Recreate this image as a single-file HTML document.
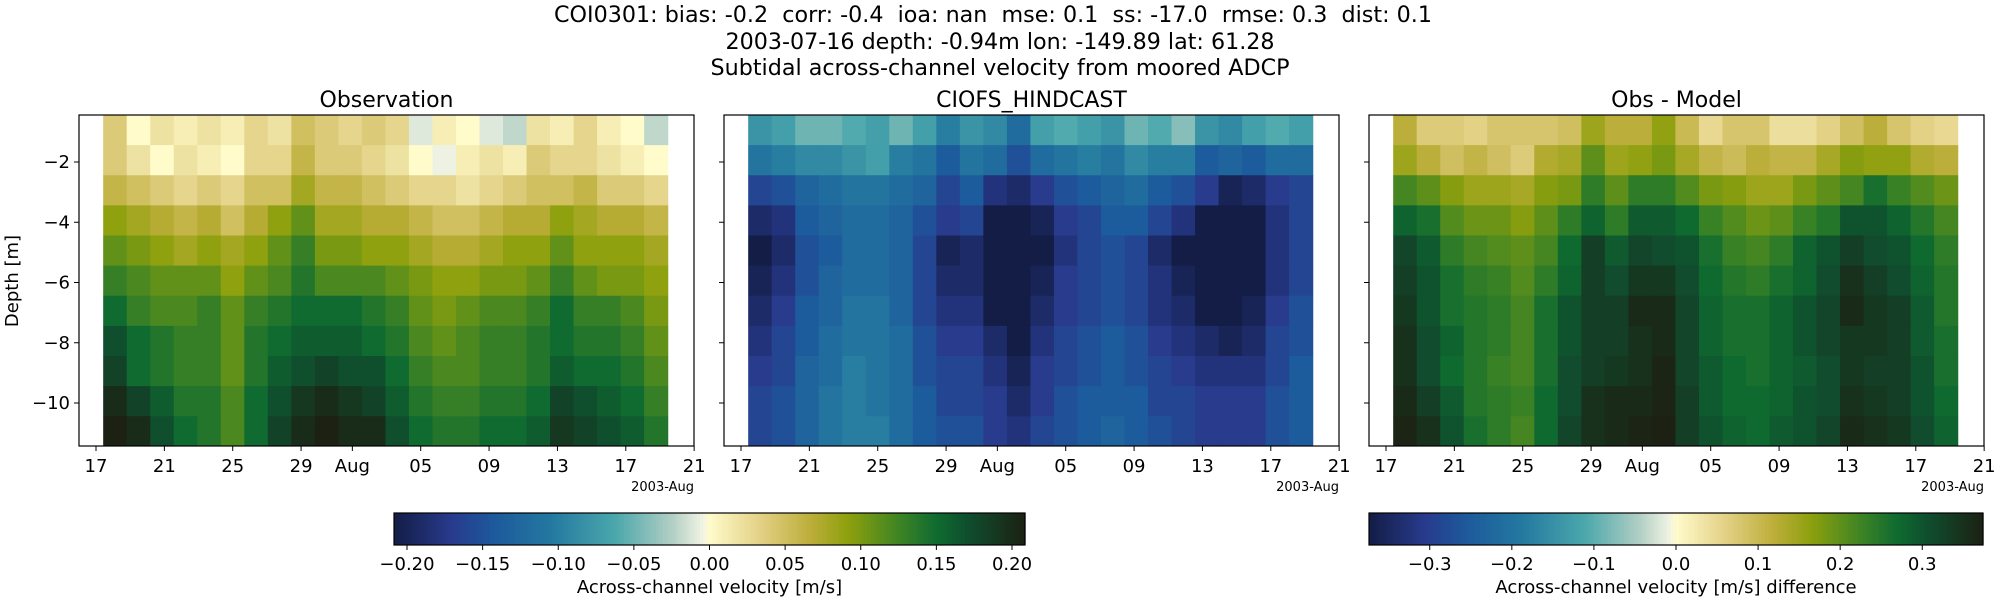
<!DOCTYPE html>
<html><head><meta charset="utf-8"><style>
html,body{margin:0;padding:0;background:#fff;}
svg{display:block;font-family:"DejaVu Sans","Liberation Sans",sans-serif;}
</style></head><body>
<svg id="fig" width="2000" height="600" viewBox="0 0 2000 600" xmlns="http://www.w3.org/2000/svg">
<g font-size="22" text-anchor="middle" fill="#000" style="white-space:pre">
<text x="993" y="22" textLength="878" lengthAdjust="spacingAndGlyphs" xml:space="preserve">COI0301: bias: -0.2  corr: -0.4  ioa: nan  mse: 0.1  ss: -17.0  rmse: 0.3  dist: 0.1</text>
<text x="1000" y="49" textLength="549" lengthAdjust="spacingAndGlyphs">2003-07-16 depth: -0.94m lon: -149.89 lat: 61.28</text>
<text x="1000" y="75" textLength="579" lengthAdjust="spacingAndGlyphs">Subtidal across-channel velocity from moored ADCP</text>
</g>
<g id="layer"></g>
</svg>
<script>
const obs = [
[0.04,0.0,0.02,0.01,0.02,0.01,0.03,0.02,0.05,0.04,0.03,0.04,0.03,-0.01,0.01,0.0,-0.01,-0.02,0.02,0.01,0.03,0.01,0.0,-0.02],
[0.04,0.02,0.0,0.02,0.01,0.0,0.03,0.03,0.06,0.04,0.04,0.03,0.02,0.0,-0.005,0.01,0.02,0.01,0.04,0.03,0.03,0.02,0.01,0.0],
[0.06,0.05,0.04,0.03,0.04,0.03,0.05,0.05,0.08,0.06,0.06,0.05,0.04,0.03,0.03,0.02,0.03,0.04,0.05,0.05,0.06,0.04,0.04,0.03],
[0.09,0.08,0.07,0.06,0.07,0.05,0.07,0.09,0.11,0.08,0.08,0.07,0.07,0.06,0.05,0.05,0.06,0.07,0.07,0.09,0.08,0.07,0.07,0.06],
[0.11,0.10,0.09,0.08,0.09,0.08,0.09,0.11,0.13,0.10,0.10,0.09,0.09,0.08,0.07,0.07,0.08,0.09,0.09,0.11,0.09,0.09,0.09,0.08],
[0.13,0.12,0.11,0.11,0.11,0.09,0.11,0.12,0.14,0.12,0.12,0.12,0.11,0.10,0.09,0.09,0.10,0.10,0.11,0.13,0.11,0.10,0.10,0.09],
[0.15,0.13,0.12,0.12,0.13,0.11,0.13,0.14,0.15,0.15,0.15,0.14,0.13,0.11,0.10,0.11,0.12,0.12,0.13,0.15,0.13,0.13,0.12,0.10],
[0.17,0.15,0.14,0.13,0.13,0.11,0.14,0.15,0.16,0.16,0.16,0.15,0.14,0.12,0.11,0.12,0.13,0.13,0.14,0.15,0.14,0.14,0.13,0.11],
[0.18,0.15,0.14,0.13,0.13,0.11,0.14,0.16,0.17,0.18,0.17,0.17,0.15,0.13,0.12,0.12,0.13,0.13,0.14,0.16,0.15,0.15,0.14,0.12],
[0.20,0.18,0.16,0.14,0.14,0.12,0.15,0.17,0.19,0.20,0.19,0.18,0.16,0.14,0.13,0.13,0.14,0.14,0.15,0.18,0.17,0.16,0.15,0.13],
[0.21,0.20,0.17,0.15,0.14,0.12,0.15,0.18,0.20,0.21,0.20,0.20,0.17,0.15,0.14,0.14,0.15,0.15,0.16,0.19,0.18,0.17,0.16,0.14]
];
const model = [
[-0.08,-0.07,-0.05,-0.05,-0.06,-0.07,-0.05,-0.07,-0.10,-0.08,-0.09,-0.12,-0.07,-0.06,-0.07,-0.08,-0.05,-0.06,-0.04,-0.08,-0.09,-0.07,-0.06,-0.07],
[-0.11,-0.10,-0.09,-0.09,-0.08,-0.07,-0.10,-0.11,-0.14,-0.11,-0.12,-0.15,-0.12,-0.11,-0.10,-0.11,-0.09,-0.10,-0.10,-0.14,-0.13,-0.14,-0.12,-0.12],
[-0.16,-0.15,-0.13,-0.12,-0.11,-0.11,-0.12,-0.13,-0.16,-0.14,-0.18,-0.19,-0.17,-0.15,-0.14,-0.13,-0.12,-0.14,-0.15,-0.17,-0.20,-0.19,-0.17,-0.16],
[-0.19,-0.18,-0.14,-0.13,-0.12,-0.12,-0.13,-0.15,-0.17,-0.16,-0.21,-0.22,-0.20,-0.17,-0.16,-0.14,-0.14,-0.16,-0.18,-0.21,-0.22,-0.21,-0.18,-0.16],
[-0.21,-0.19,-0.15,-0.14,-0.12,-0.12,-0.13,-0.16,-0.20,-0.19,-0.22,-0.22,-0.21,-0.18,-0.16,-0.15,-0.16,-0.19,-0.21,-0.22,-0.22,-0.21,-0.18,-0.16],
[-0.20,-0.18,-0.15,-0.13,-0.12,-0.12,-0.13,-0.16,-0.19,-0.19,-0.22,-0.22,-0.20,-0.17,-0.16,-0.15,-0.16,-0.18,-0.20,-0.22,-0.22,-0.21,-0.18,-0.16],
[-0.19,-0.17,-0.14,-0.13,-0.11,-0.11,-0.13,-0.16,-0.18,-0.18,-0.21,-0.22,-0.19,-0.17,-0.16,-0.15,-0.16,-0.18,-0.19,-0.21,-0.21,-0.20,-0.17,-0.15],
[-0.18,-0.16,-0.14,-0.12,-0.11,-0.11,-0.12,-0.15,-0.17,-0.17,-0.19,-0.21,-0.18,-0.16,-0.15,-0.14,-0.15,-0.17,-0.18,-0.19,-0.20,-0.19,-0.16,-0.15],
[-0.17,-0.16,-0.13,-0.12,-0.10,-0.11,-0.12,-0.15,-0.16,-0.16,-0.18,-0.20,-0.17,-0.16,-0.15,-0.14,-0.15,-0.16,-0.17,-0.18,-0.18,-0.18,-0.16,-0.14],
[-0.16,-0.15,-0.13,-0.11,-0.10,-0.11,-0.12,-0.14,-0.16,-0.16,-0.17,-0.19,-0.17,-0.15,-0.14,-0.14,-0.14,-0.16,-0.16,-0.17,-0.17,-0.17,-0.15,-0.14],
[-0.16,-0.15,-0.13,-0.11,-0.10,-0.10,-0.12,-0.14,-0.15,-0.15,-0.17,-0.18,-0.16,-0.15,-0.14,-0.13,-0.14,-0.15,-0.16,-0.17,-0.17,-0.17,-0.15,-0.14]
];
const depths = [-0.94,-1.94,-2.94,-3.94,-4.94,-5.94,-6.94,-7.94,-8.94,-9.94,-10.94];
const tStart = 17.42, tEnd = 50.45;
const xTickDays = [17,21,25,29,32,36,40,44,48,52];
const xTickLabels = ["17","21","25","29","Aug","05","09","13","17","21"];
const yTicks = [-2,-4,-6,-8,-10];
const cb1Ticks = [-0.20,-0.15,-0.10,-0.05,0.00,0.05,0.10,0.15,0.20];
const cb2Ticks = [-0.3,-0.2,-0.1,0.0,0.1,0.2,0.3];

const NS="http://www.w3.org/2000/svg";
const layer=document.getElementById('layer');
function mk(tag,attrs,parent){const e=document.createElementNS(NS,tag);for(const k in attrs)e.setAttribute(k,attrs[k]);(parent||layer).appendChild(e);return e;}
const stops=[[0,'#131d45'],[0.09,'#283a8c'],[0.16,'#1d5a9c'],[0.25,'#2479a0'],[0.35,'#4aa7ab'],[0.44,'#b1cec4'],[0.49,'#f1f4e4'],[0.5,'#fffbcb'],[0.58,'#e3d186'],[0.66,'#bcae3a'],[0.72,'#8da00d'],[0.8,'#3f8424'],[0.86,'#0f6b30'],[0.91,'#0f4e2e'],[1,'#1c2113']];
function hx(h){return [1,3,5].map(i=>parseInt(h.substr(i,2),16));}
function cmap(f){f=Math.max(0,Math.min(1,f));for(let i=1;i<stops.length;i++){if(f<=stops[i][0]){const a=stops[i-1],b=stops[i];const t=(f-a[0])/(b[0]-a[0]);const ca=hx(a[1]),cb=hx(b[1]);return 'rgb('+ca.map((v,j)=>Math.round(v+(cb[j]-v)*t)).join(',')+')';}}return stops[stops.length-1][1];}
const yScale=d=>162+(-2-d)*30.125;
const panels=[{x0:79,title:'Observation',vmax:0.2086,name:'observation'},{x0:724,title:'CIOFS_HINDCAST',vmax:0.2086,name:'model'},{x0:1369,title:'Obs - Model',vmax:0.374,name:'difference'}];
const PW=615, PT=115, PB=446;
const diff=obs.map((r,i)=>r.map((v,j)=>v-model[i][j]));
const grids=[obs,model,diff];
panels.forEach((p,pi)=>{
  const g=mk('g',{});
  
  
  const xs=d=>p.x0+17+(d-17)*17.09;
  const grid=grids[pi];
  grid.forEach((row,ri)=>{
    const n=row.length, dt=(tEnd-tStart)/n;
    const y1=yScale(depths[ri]+0.5), y2=yScale(depths[ri]-0.5);
    const top=Math.max(PT,y1);
    row.forEach((v,ci)=>{
      const xa=xs(tStart+ci*dt), xb=xs(tStart+(ci+1)*dt);
      const r=mk('rect',{x:xa.toFixed(2),y:top.toFixed(2),width:(xb-xa+0.6).toFixed(2),height:(Math.min(PB,y2)-top+0.4).toFixed(2),fill:cmap((v+p.vmax)/(2*p.vmax))},g);
      
      
    });
  });
  const fr=mk('rect',{x:p.x0,y:PT,width:PW,height:PB-PT,fill:'none',stroke:'#000','stroke-width':1.2},g);
  
  
  const tt=mk('text',{x:p.x0+PW/2,y:107,'text-anchor':'middle','font-size':22},g);
  tt.textContent=p.title;
  
  
  xTickDays.forEach((d,i)=>{
    const x=xs(d);
    mk('line',{x1:x,x2:x,y1:PB,y2:PB+5,stroke:'#000','stroke-width':1},g);
    const t=mk('text',{x:x,y:PB+26,'text-anchor':'middle','font-size':18},g);
    t.textContent=xTickLabels[i];
    
    
  });
  const off=mk('text',{x:p.x0+PW,y:491,'text-anchor':'end','font-size':13},g);
  off.textContent='2003-Aug';
  
  
  yTicks.forEach(v=>{
    const y=yScale(v);
    mk('line',{x1:p.x0-5,x2:p.x0,y1:y,y2:y,stroke:'#000','stroke-width':1},g);
    if(pi===0){
      const t=mk('text',{x:p.x0-9,y:y+6,'text-anchor':'end','font-size':18},g);
      t.textContent='\u2212'+Math.abs(v);
      
      
    }
  });
});
const yl=mk('text',{x:0,y:0,'text-anchor':'middle','font-size':18,transform:'translate(18,281) rotate(-90)'});
yl.textContent='Depth [m]';



function colorbar(x0,x1,vmax,ticks,dec,label,name){
  const g=mk('g',{});
  
  
  const N=200,w=(x1-x0)/N;
  for(let i=0;i<N;i++){mk('rect',{x:x0+i*w,y:513,width:w+0.6,height:32,fill:cmap((i+0.5)/N)},g);}
  mk('rect',{x:x0,y:513,width:x1-x0,height:32,fill:'none',stroke:'#000','stroke-width':1.2},g);
  ticks.forEach(v=>{
    const x=x0+(v+vmax)/(2*vmax)*(x1-x0);
    mk('line',{x1:x,x2:x,y1:545,y2:550,stroke:'#000'},g);
    const t=mk('text',{x:x,y:570,'text-anchor':'middle','font-size':18},g);
    t.textContent=(v<0?'\u2212':'')+Math.abs(v).toFixed(dec);
    
    
  });
  const l=mk('text',{x:(x0+x1)/2,y:593,'text-anchor':'middle','font-size':18},g);
  l.textContent=label;
  
  
}
colorbar(394,1025,0.2086,cb1Ticks,2,'Across-channel velocity [m/s]','velocity-colorbar');
colorbar(1369,1983,0.374,cb2Ticks,1,'Across-channel velocity [m/s] difference','difference-colorbar');
</script>
</body></html>
